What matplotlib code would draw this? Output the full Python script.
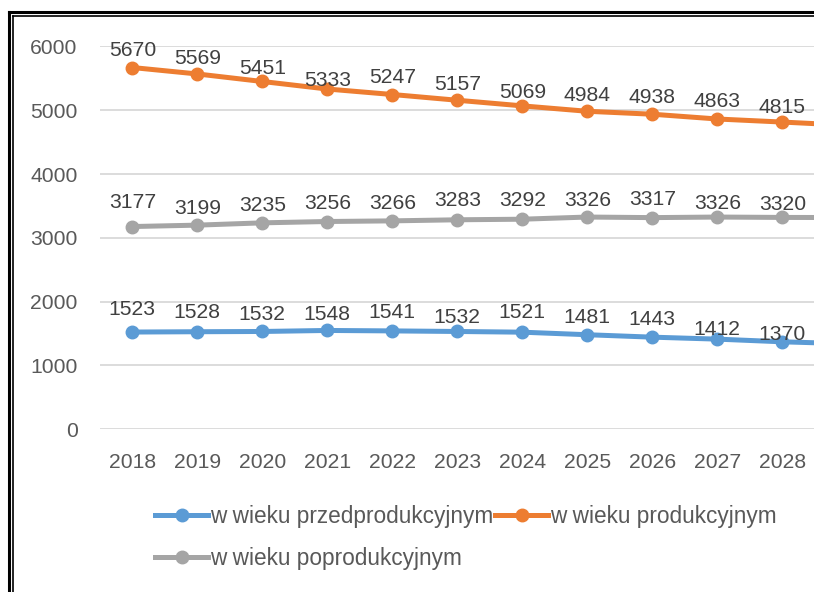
import matplotlib
matplotlib.use('Agg')
import matplotlib.pyplot as plt
from matplotlib.lines import Line2D
import numpy as np

plt.rcParams['font.family'] = ['Liberation Sans', 'DejaVu Sans']

# data
years = ['2018', '2019', '2020', '2021', '2022', '2023', '2024', '2025', '2026', '2027', '2028', '2029']
przed = [1523, 1528, 1532, 1548, 1541, 1532, 1521, 1481, 1443, 1412, 1370, 1340]
prod = [5670, 5569, 5451, 5333, 5247, 5157, 5069, 4984, 4938, 4863, 4815, 4765]
popr = [3177, 3199, 3235, 3256, 3266, 3283, 3292, 3326, 3317, 3326, 3320, 3318]
names = ['w wieku przedprodukcyjnym', 'w wieku produkcyjnym', 'w wieku poprodukcyjnym']

# label offsets above the points (pixels)
dy_przed = [23, 19, 17, 16, 18, 14, 20, 17, 18, 10, 7]
dy_prod = [17, 15, 13, 9, 17, 16, 13, 16, 17, 17, 15]
dy_popr = [24, 17, 17, 18, 17, 19, 19, 17, 18, 14, 13]

c_blue = '#5B9BD5'
c_orange = '#ED7D31'
c_gray = '#A5A5A5'
fs = 15.2
n_shown = 11  # the picture is cut off after 2028

fig = plt.figure(figsize=(8.14, 5.92), dpi=100)
ax = fig.add_axes([99.8/814, 0.275, 12*65/814, 0.6465])

x = np.arange(len(years))
l1, = ax.plot(x, przed, color=c_blue, lw=3.6, marker='o', ms=9, zorder=3)
l2, = ax.plot(x, prod, color=c_orange, lw=3.6, marker='o', ms=9, zorder=3)
l3, = ax.plot(x, popr, color=c_gray, lw=3.6, marker='o', ms=9, zorder=3)

for vals, dys in [(przed, dy_przed), (prod, dy_prod), (popr, dy_popr)]:
    for xi, v, d in zip(x[:n_shown], vals[:n_shown], dys):
        ax.annotate(str(v), (xi, v), xytext=(0, d), textcoords='offset pixels',
                    ha='center', va='center', fontsize=fs, color='#404040', zorder=4)

ax.set_xlim(-0.5, len(years) - 0.5)
ax.set_ylim(0, 6000)
ax.set_yticks([0, 1000, 2000, 3000, 4000, 5000, 6000])
ax.set_xticks(x[:n_shown])
ax.set_xticklabels(years[:n_shown])
ax.grid(axis='y', color='#D9D9D9', lw=1.3)
ax.set_axisbelow(True)
for s in ax.spines.values():
    s.set_visible(False)
ax.tick_params(axis='both', length=0, labelsize=fs, labelcolor='#595959')
ax.tick_params(axis='y', pad=16)
ax.tick_params(axis='x', pad=17)

leg = fig.legend([l1, l3, l2], [names[0], names[2], names[1]], ncol=2,
                 loc='upper left', bbox_to_anchor=(155/814, 1 - 505/592),
                 frameon=False, borderpad=0, borderaxespad=0,
                 handlelength=2.35, handletextpad=0.08, columnspacing=0.08,
                 labelspacing=0.84, prop={'family': 'Liberation Sans', 'size': 16.3})
for t in leg.get_texts():
    t.set_color('#595959')

# double frame, right and bottom cut off
fig.add_artist(Line2D([8.5/814, 8.5/814], [-0.1, 1 - 11.5/592], transform=fig.transFigure, color='black', lw=2.2))
fig.add_artist(Line2D([8.5/814, 1.1], [1 - 11.5/592, 1 - 11.5/592], transform=fig.transFigure, color='black', lw=2.2))
fig.add_artist(Line2D([12.8/814, 12.8/814], [-0.1, 1 - 15.7/592], transform=fig.transFigure, color='black', lw=1.2))
fig.add_artist(Line2D([12.8/814, 1.1], [1 - 15.7/592, 1 - 15.7/592], transform=fig.transFigure, color='black', lw=1.2))

plt.savefig('out.png', dpi=100)
plt.close()
